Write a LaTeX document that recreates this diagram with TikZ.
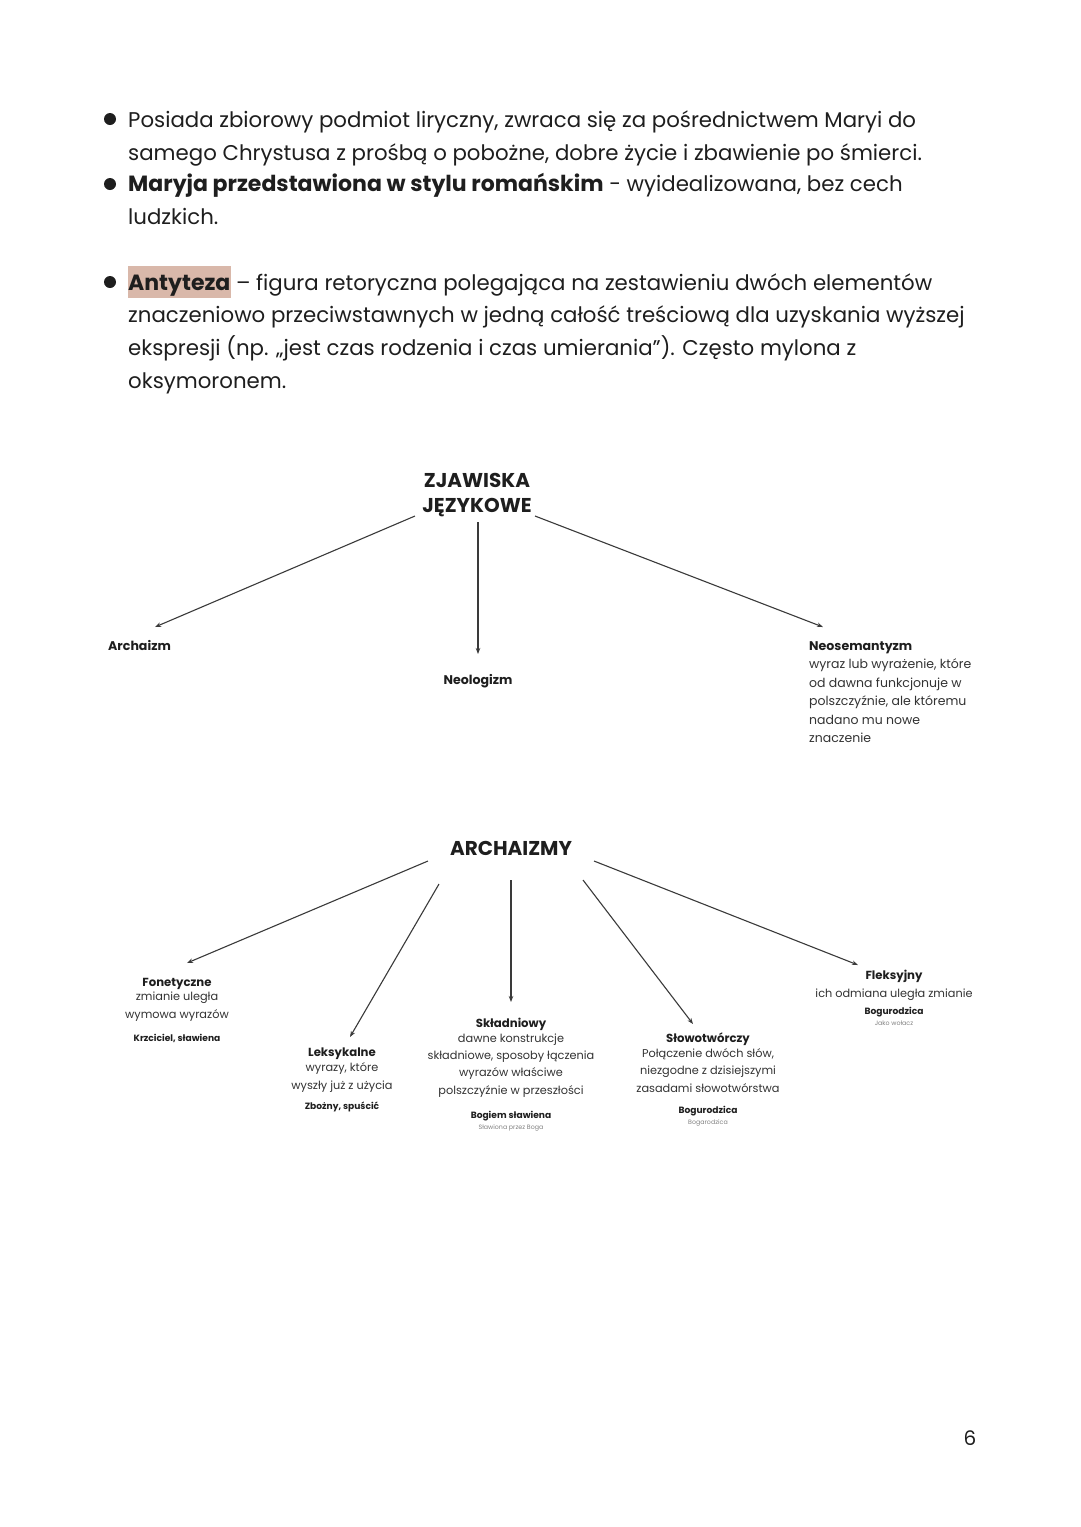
\documentclass[tikz,border=0pt]{standalone}
\usepackage{fontspec}
\setmainfont{Poppins}
\usetikzlibrary{arrows.meta}
\definecolor{hl}{HTML}{D9B8AA}
\definecolor{txt}{HTML}{1E1E1E}
\definecolor{lncol}{HTML}{3A3A3A}
\definecolor{subtxt}{HTML}{333333}
\newcommand{\bodybf}[1]{{\fontsize{22}{32.6}\selectfont\bfseries #1}}
\begin{document}
\begin{tikzpicture}[x=1pt,y=-1pt,
  body/.style={anchor=base west, inner sep=0pt, align=left, text=txt, font=\fontsize{21.3}{32.6}\selectfont},
  bul/.style={fill=txt},
  head/.style={anchor=base, inner sep=0pt, align=center, text=txt, font=\fontsize{20}{25}\selectfont\bfseries},
  leaf/.style={anchor=base, inner sep=0pt, align=center, text=txt, font=\fontsize{11.7}{17}\selectfont\bfseries},
  desc/.style={anchor=base, inner sep=0pt, align=center, text=subtxt, font=\fontsize{11.3}{17.2}\selectfont},
  ex/.style={anchor=base, inner sep=0pt, align=center, text=txt, font=\fontsize{9.1}{11}\selectfont\bfseries},
  tiny/.style={anchor=base, inner sep=0pt, align=center, text=gray, font=\fontsize{6.3}{8}\selectfont},
  arr/.style={draw=lncol, line width=1.1pt, -{Stealth[length=6pt,width=4.5pt]}}
]
\useasboundingbox (0,0) rectangle (1080,1527);
\fill[white] (0,0) rectangle (1080,1527);

% bullets text
\fill[bul] (110,119) circle (6);
\node[body] (b1) at (128,160) {Posiada zbiorowy podmiot liryczny, zwraca się za pośrednictwem Maryi do\\samego Chrystusa z prośbą o pobożne, dobre życie i zbawienie po śmierci.};
\fill[bul] (110,184) circle (6);
\node[body] (b2) at (128,224) {\bodybf{Maryja przedstawiona w stylu romańskim} - wyidealizowana, bez cech\\ludzkich.};
\fill[hl] (128,266) rectangle (231,298);
\fill[bul] (110,282) circle (6);
\node[body] (b3) at (128,388) {\bodybf{Antyteza} – figura retoryczna polegająca na zestawieniu dwóch elementów\\znaczeniowo przeciwstawnych w jedną całość treściową dla uzyskania wyższej\\ekspresji (np. „jest czas rodzenia i czas umierania”). Często mylona z\\oksymoronem.};

% tree 1
\node[head] (zj) at (477,512) {ZJAWISKA\\JĘZYKOWE};
\node[leaf, font=\fontsize{12.6}{17}\selectfont\bfseries, anchor=base west] (archaizm) at (108,650) {Archaizm};
\node[leaf, font=\fontsize{12.6}{17}\selectfont\bfseries] (neolog) at (478,684) {Neologizm};
\node[leaf, font=\fontsize{12.6}{18.5}\selectfont\bfseries, anchor=base west, align=left] (neosem) at (809,742.5) {Neosemantyzm\\\fontsize{12.5}{18.5}\selectfont\mdseries\color{subtxt}wyraz lub wyrażenie, które\\\fontsize{12.5}{18.5}\selectfont\mdseries\color{subtxt}od dawna funkcjonuje w\\\fontsize{12.5}{18.5}\selectfont\mdseries\color{subtxt}polszczyźnie, ale któremu\\\fontsize{12.5}{18.5}\selectfont\mdseries\color{subtxt}nadano mu nowe\\\fontsize{12.5}{18.5}\selectfont\mdseries\color{subtxt}znaczenie};

\coordinate (zjL) at (415,516);
\coordinate (zjM) at (478,522);
\coordinate (zjR) at (535,516);
\coordinate (archT) at (155,627);
\coordinate (neoT) at (478,654);
\coordinate (nsT) at (823,627);
\draw[arr] (zjL) -- (archT);
\draw[arr] (zjM) -- (neoT);
\draw[arr] (zjR) -- (nsT);

% tree 2
\node[head] (arch2) at (511,855) {ARCHAIZMY};

\node[leaf] (fon) at (177,986) {Fonetyczne};
\node[desc] (fond) at (177,1018) {zmianie uległa\\wymowa wyrazów};
\node[ex] (fone) at (177,1041) {Krzciciel, sławiena};

\node[leaf] (lek) at (342,1056) {Leksykalne};
\node[desc] (lekd) at (342,1089) {wyrazy, które\\wyszły już z użycia};
\node[ex] (leke) at (342,1109) {Zbożny, spuścić};

\node[leaf] (skl) at (511,1027) {Składniowy};
\node[desc] (skld) at (511,1094) {dawne konstrukcje\\składniowe, sposoby łączenia\\wyrazów właściwe\\polszczyźnie w przeszłości};
\node[ex] (skle) at (511,1118) {Bogiem sławiena};
\node[tiny] (sklt) at (511,1129) {Sławiona przez Boga};

\node[leaf] (slo) at (708,1042) {Słowotwórczy};
\node[desc] (slod) at (708,1092) {Połączenie dwóch słów,\\niezgodne z dzisiejszymi\\zasadami słowotwórstwa};
\node[ex] (sloe) at (708,1113) {Bogurodzica};
\node[tiny] (slot) at (708,1124) {Bogarodzica};

\node[leaf] (fle) at (894,979) {Fleksyjny};
\node[desc] (fled) at (894,997) {ich odmiana uległa zmianie};
\node[ex] (flee) at (894,1014) {Bogurodzica};
\node[tiny] (flet) at (894,1025) {Jako wołacz};

\coordinate (a1s) at (428,861);
\coordinate (a2s) at (439,884);
\coordinate (a3s) at (511,880);
\coordinate (a4s) at (583,880);
\coordinate (a5s) at (594,861);
\coordinate (fonT) at (187,963);
\coordinate (lekT) at (350,1037);
\coordinate (sklT) at (511,1002);
\coordinate (sloT) at (693,1024);
\coordinate (fleT) at (858,965);
\draw[arr] (a1s) -- (fonT);
\draw[arr] (a2s) -- (lekT);
\draw[arr] (a3s) -- (sklT);
\draw[arr] (a4s) -- (sloT);
\draw[arr] (a5s) -- (fleT);

\node[anchor=base, inner sep=0pt, text=txt, font=\fontsize{20}{24}\selectfont] (pg) at (970,1445) {6};
\end{tikzpicture}
\end{document}
